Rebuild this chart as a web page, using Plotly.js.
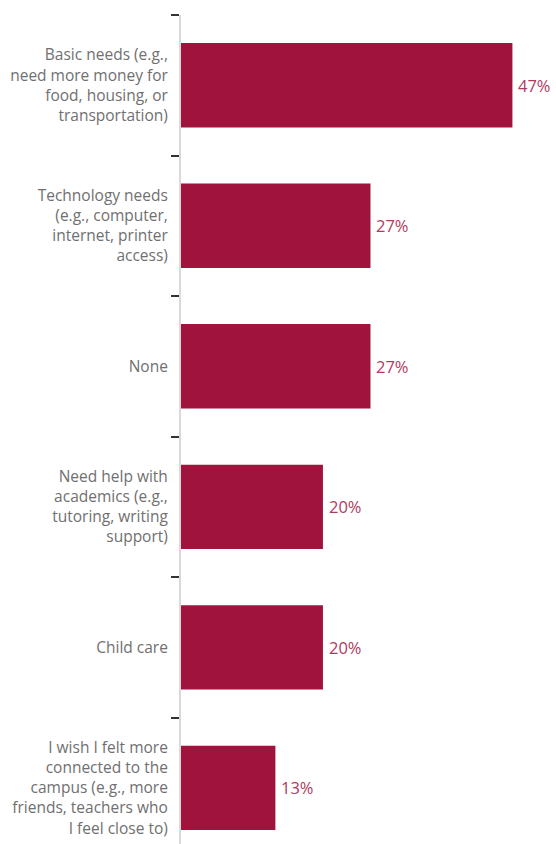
<!DOCTYPE html>
<html><head><meta charset="utf-8">
<script src="https://cdn.plot.ly/plotly-3.0.1.min.js"></script>
<style>html,body{margin:0;padding:0;background:#fff;}</style>
</head><body>
<div id="chart" style="width:556px;height:844px;"></div>
<script>
const categories = [
  "Basic needs (e.g.,<br>need more money for<br>food, housing, or<br>transportation)",
  "Technology needs<br>(e.g., computer,<br>internet, printer<br>access)",
  "None",
  "Need help with<br>academics (e.g.,<br>tutoring, writing<br>support)",
  "Child care",
  "I wish I felt more<br>connected to the<br>campus (e.g., more<br>friends, teachers who<br>I feel close to)"
];
const values = [46.7, 26.7, 26.7, 20, 20, 13.3];
const valueLabels = ["47%", "27%", "27%", "20%", "20%", "13%"];

const annotations = values.map((v, i) => ({
  x: v, y: categories[i], xref: 'x', yref: 'y',
  text: valueLabels[i], showarrow: false, xanchor: 'left', xshift: 4,
  font: {family: '"Open Sans", sans-serif', size: 16.5, color: '#B03A60'}
}));

Plotly.newPlot('chart', [{
  type: 'bar', orientation: 'h',
  x: values, y: categories,
  marker: {color: '#A0133C'},
  hoverinfo: 'none'
}], {
  width: 556, height: 844,
  margin: {l: 181, r: 1, t: 15, b: 0},
  paper_bgcolor: '#fff', plot_bgcolor: '#fff',
  bargap: 0.4,
  showlegend: false,
  xaxis: {range: [0, 52.7], visible: false, fixedrange: true},
  yaxis: {
    type: 'category', range: [5.4, -0.5],
    showline: true, linecolor: '#d9d9d9', linewidth: 2,
    ticks: 'outside', tickson: 'boundaries', ticklen: 8, tickwidth: 2, tickcolor: '#333',
    showgrid: false, zeroline: false,
    tickfont: {family: '"Open Sans", sans-serif', size: 15.5, color: '#707070'},
    ticklabelstandoff: 8
  },
  annotations: annotations
}, {displayModeBar: false, staticPlot: true});
</script>
</body></html>
